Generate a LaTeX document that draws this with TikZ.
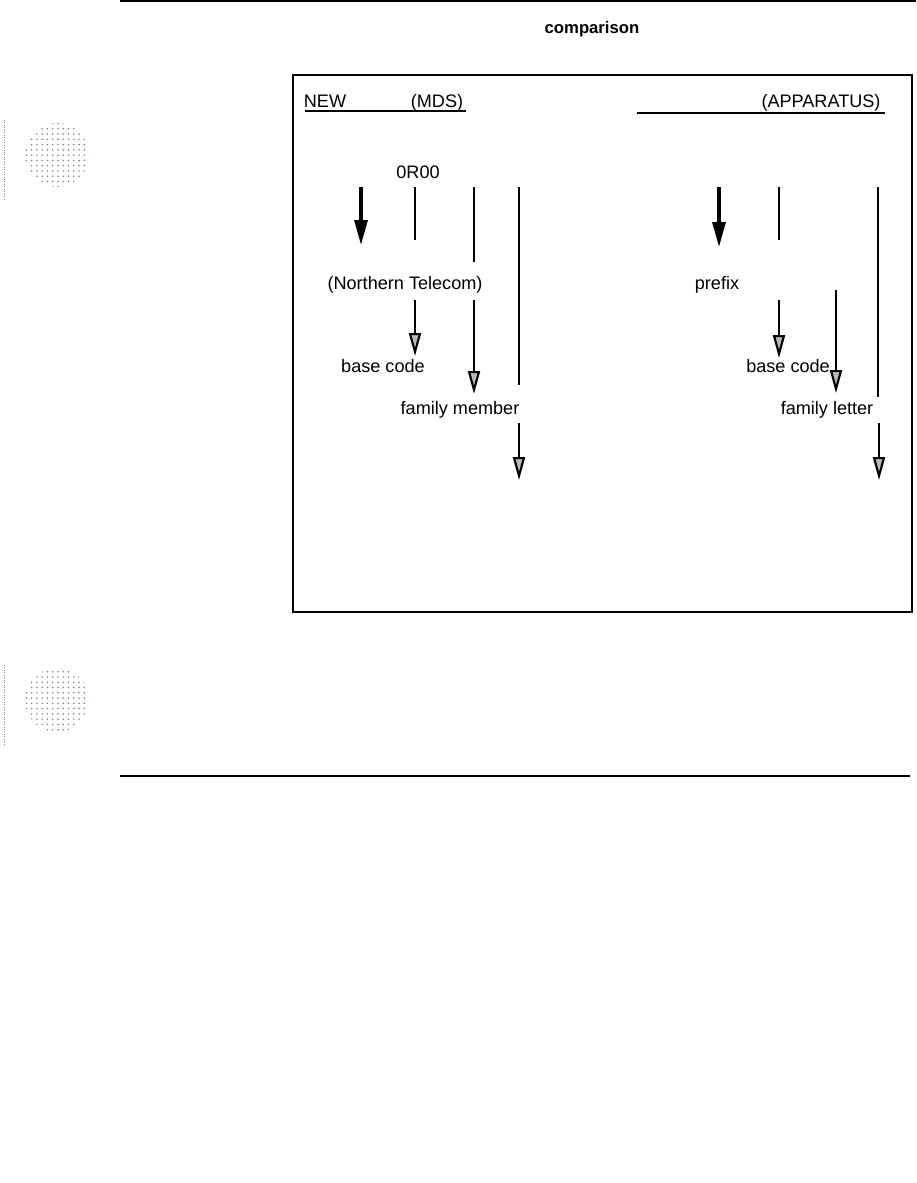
\documentclass[tikz,border=0pt]{standalone}
\usepackage{fontspec}
\setmainfont{Liberation Sans}
\usetikzlibrary{arrows.meta,patterns}

\tikzset{
  lbl/.style={anchor=base,inner sep=0pt,font=\fontsize{10.3}{12}\selectfont},
  stem/.style={line width=1.2pt},
  bigdown/.style={line width=1.8pt,-{Triangle[length=0.5cm,width=0.26cm]}},
  down/.style={line width=1.2pt,-{Triangle[length=0.46cm,width=0.24cm,fill=gray!55]}},
}

\begin{document}
\begin{tikzpicture}[x=0.02cm,y=-0.02cm]
  \useasboundingbox (0,0) rectangle (916,1183);
  % page rules
  \draw[line width=1.6pt] (120,1) -- (916,1);
  \draw[line width=1.6pt] (120,776) -- (910,776);
  \node[anchor=base,inner sep=0pt,font=\fontsize{9.5}{11}\selectfont\bfseries] (title) at (592,33) {comparison};
  % punch holes
  \fill[pattern=dots,pattern color=gray] (57,155) circle (32);
  \fill[pattern=dots,pattern color=gray] (57,700) circle (32);
  \draw[gray,densely dotted] (4,120) -- (4,200);
  \draw[gray,densely dotted] (4,665) -- (4,745);
  % frame
  \draw[line width=1.3pt] (293,75) rectangle (912,612);
  % headings
  \node[lbl] (new) at (325,107) {NEW};
  \node[lbl] (mds) at (437,107) {(MDS)};
  \node[lbl] (app) at (821,107) {(APPARATUS)};
  \draw[line width=0.7pt] (305,111) -- (466,111);
  \draw[line width=0.7pt] (637,113) -- (885,113);
  % new code
  \node[lbl] (code) at (418,178) {0R00};
  \node[lbl] (nt) at (405,289) {(Northern Telecom)};
  \node[lbl] (bcl) at (383,372) {base code};
  \node[lbl] (fm) at (460,414) {family member};
  \draw[bigdown] (361,187) -- (361,245);
  \draw[stem] (415,187) -- (415,240);
  \draw[stem] (474,187) -- (474,262);
  \draw[line width=0.8pt] (519,187) -- (519,385);
  \draw[down] (415,300) -- (415,356);
  \draw[down] (474,300) -- (474,394);
  \draw[down] (519,423) -- (519,480);
  % old code
  \node[lbl] (pre) at (717,289) {prefix};
  \node[lbl] (bcr) at (788,372) {base code};
  \node[lbl] (fl) at (827,414) {family letter};
  \draw[bigdown] (719,187) -- (719,247);
  \draw[stem] (779,187) -- (779,240);
  \draw[line width=1.3pt] (878,187) -- (878,397);
  \draw[down] (779,300) -- (779,358);
  \draw[down] (836,290) -- (836,393);
  \draw[down] (879,423) -- (879,480);
\end{tikzpicture}
\end{document}
